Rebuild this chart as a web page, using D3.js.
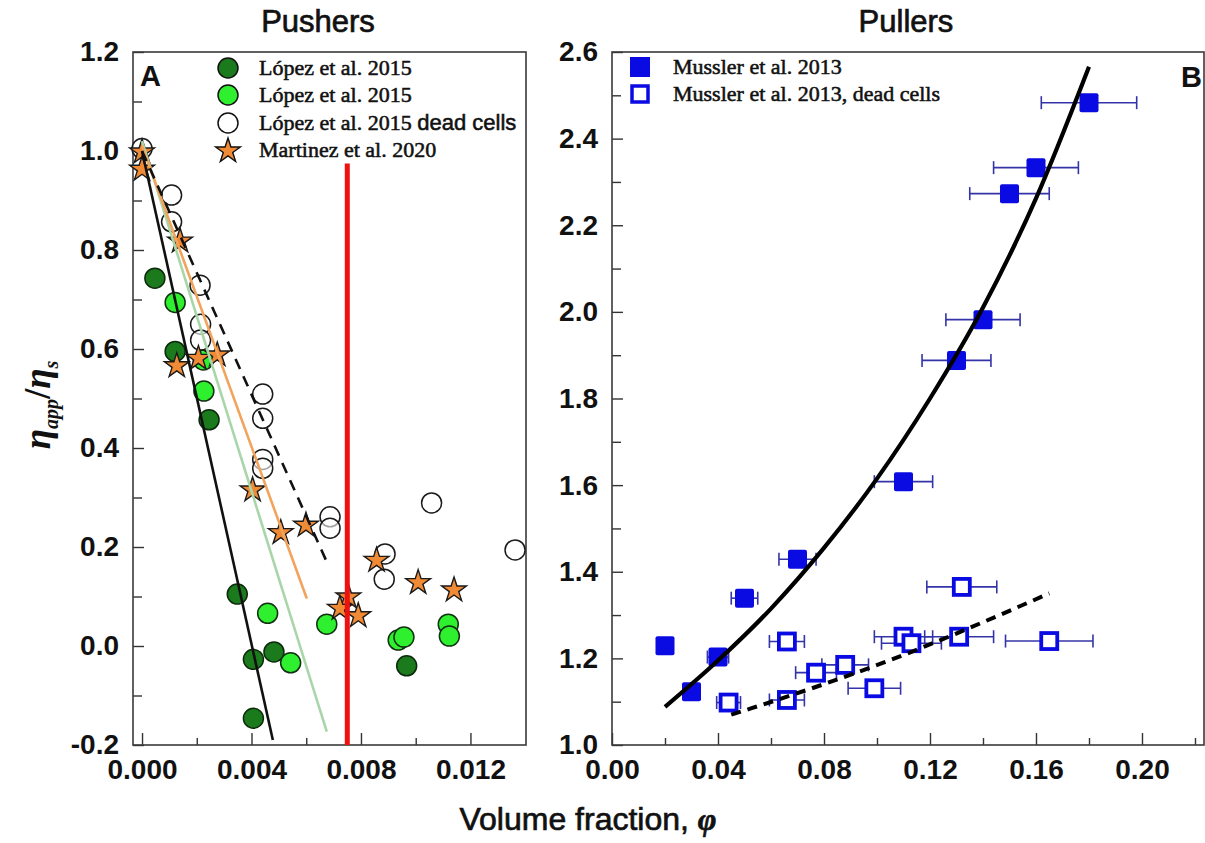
<!DOCTYPE html>
<html><head><meta charset="utf-8">
<script src="https://cdn.jsdelivr.net/npm/d3@7"></script>
<style>
body{margin:0;background:#fff;}
svg text{font-family:"Liberation Sans",Arial,sans-serif;}
</style></head><body>
<svg id="chart" width="1205" height="843"></svg>
<script>
// ---------- Panel A: pushers ----------
const darkGreenPhi = [0.00047, 0.00121, 0.00245, 0.00348, 0.00407, 0.00482, 0.00407, 0.00967];
const darkGreenEta = [0.743, 0.595, 0.457, 0.105, -0.027, -0.012, -0.146, -0.040];

const lightGreenPhi = [0.00121, 0.00224, 0.00226, 0.00459, 0.00543, 0.00675, 0.00936, 0.00957, 0.01119, 0.01123];
const lightGreenEta = [0.694, 0.578, 0.515, 0.066, -0.034, 0.044, 0.012, 0.018, 0.044, 0.020];

const deadPhi = [0.0, 0.00108, 0.00108, 0.00212, 0.00214, 0.00214, 0.00441, 0.00441, 0.00441, 0.00441, 0.00687, 0.00687, 0.01058, 0.00888, 0.00885, 0.01363];
const deadEta = [1.005, 0.911, 0.857, 0.729, 0.650, 0.618, 0.509, 0.460, 0.377, 0.359, 0.261, 0.238, 0.289, 0.186, 0.135, 0.194];

const martinezPhi = [0.0, 0.0, 0.00139, 0.00127, 0.00206, 0.00275, 0.00404, 0.00507, 0.00599, 0.00857, 0.01009, 0.0114, 0.00754, 0.00723, 0.0079];
const martinezEta = [1.0, 0.965, 0.820, 0.568, 0.583, 0.590, 0.317, 0.231, 0.246, 0.175, 0.130, 0.115, 0.101, 0.078, 0.063];

// straight fits (end points)
const fitDarkGreen  = [[0, 1.0], [0.00478, -0.19]];
const fitLightGreen = [[0, 1.02], [0.00675, -0.173]];
const fitMartinez   = [[0, 1.01], [0.00602, 0.096]];
const fitDead       = [[0, 1.0], [0.00675, 0.17]];
const criticalPhi = 0.0075, criticalTop = 0.975;

const pushXTicks = [0, 0.004, 0.008, 0.012];
const pushXMinor = [0.002, 0.006, 0.010];
const pushYTicks = [-0.2, 0.0, 0.2, 0.4, 0.6, 0.8, 1.0, 1.2];
const pushYMinor = [-0.1, 0.1, 0.3, 0.5, 0.7, 0.9, 1.1];

const pushLegend = [["López et al. 2015", ""], ["López et al. 2015", ""], ["López et al. 2015 ", "dead cells"], ["Martinez et al. 2020", ""]];

// ---------- Panel B: pullers ----------
const livePhi = [0.02, 0.03, 0.04, 0.05, 0.07, 0.11, 0.13, 0.14, 0.15, 0.16, 0.18];
const liveEta = [1.229, 1.123, 1.203, 1.339, 1.429, 1.608, 1.888, 1.982, 2.273, 2.333, 2.483];
const liveErr = [0.002, 0.003, 0.004, 0.005, 0.007, 0.011, 0.013, 0.014, 0.015, 0.016, 0.018];

const deadPullPhi = [0.044, 0.066, 0.066, 0.077, 0.088, 0.099, 0.110, 0.113, 0.131, 0.132, 0.165];
const deadPullEta = [1.098, 1.104, 1.239, 1.167, 1.185, 1.131, 1.250, 1.235, 1.250, 1.365, 1.240];
const deadPullErr = [0.0045, 0.0066, 0.0066, 0.0077, 0.0088, 0.0099, 0.011, 0.0113, 0.013, 0.0132, 0.0165];

const liveFitPhi = [0.02, 0.04, 0.06, 0.08, 0.10, 0.12, 0.14, 0.16, 0.18];
const liveFitEta = [1.088, 1.195, 1.315, 1.455, 1.615, 1.800, 2.010, 2.262, 2.566];
const deadFitPhi = [0.045, 0.0527, 0.1024, 0.165];
const deadFitEta = [1.07, 1.085, 1.19, 1.35];

const pullXTicks = [0, 0.04, 0.08, 0.12, 0.16, 0.20];
const pullXMinor = [0.02, 0.06, 0.10, 0.14, 0.18, 0.22];
const pullYTicks = [1.0, 1.2, 1.4, 1.6, 1.8, 2.0, 2.2, 2.4, 2.6];
const pullYMinor = [1.1, 1.3, 1.5, 1.7, 1.9, 2.1, 2.3, 2.5];

const pullLegend = ["Mussler et al. 2013", "Mussler et al. 2013, dead cells"];

// ---------- drawing ----------
const svg = d3.select("#chart");
const DARK = "#1b7a1b", LIGHT = "#2ff02f", ORANGE = "#f08a35", BLUE = "#0a0ae2", BAR = "#3434a8";
const SERIF = "'Liberation Serif','Times New Roman',serif";
const starGen = d3.symbol(d3.symbolStar).size(190);

const xA = d3.scaleLinear().domain([-0.00033, 0.01403]).range([133, 526]);
const yA = d3.scaleLinear().domain([-0.2, 1.2]).range([745, 52]);
const xB = d3.scaleLinear().domain([0, 0.2234]).range([612, 1204]);
const yB = d3.scaleLinear().domain([1.0, 2.6]).range([745, 52]);

const hyphen = f => v => f(v).replace("\u2212", "-");

function styleTicks(g){
  g.select(".domain").remove();
  g.selectAll(".tick line").attr("stroke", "#333").attr("stroke-width", 1.4);
  g.selectAll(".tick text").attr("fill", "#111").style("font-size", "28px").style("font-weight", "bold")
    .style("font-family", "'Liberation Sans',Arial,sans-serif");
}

function drawAxes(x, y, xt, xm, yt, ym, xfmt, yfmt){
  const [x0, x1] = x.range(), [y0, y1] = y.range();
  svg.append("g").attr("transform", `translate(0,${y0})`)
    .call(d3.axisBottom(x).tickValues(xm).tickSize(-7).tickFormat("")).call(styleTicks);
  svg.append("g").attr("transform", `translate(0,${y0})`)
    .call(d3.axisBottom(x).tickValues(xt).tickSize(-12).tickPadding(14).tickFormat(xfmt)).call(styleTicks);
  svg.append("g").attr("transform", `translate(${x0},0)`)
    .call(d3.axisLeft(y).tickValues(ym).tickSize(-9).tickFormat("")).call(styleTicks);
  svg.append("g").attr("transform", `translate(${x0},0)`)
    .call(d3.axisLeft(y).tickValues(yt).tickSize(-11).tickPadding(14).tickFormat(yfmt)).call(styleTicks);
  svg.append("rect").attr("x", x0).attr("y", y1).attr("width", x1 - x0).attr("height", y0 - y1)
    .attr("fill", "none").attr("stroke", "#3a3a3a").attr("stroke-width", 1.6);
}

drawAxes(xA, yA, pushXTicks, pushXMinor, pushYTicks, pushYMinor, hyphen(d3.format(".3f")), hyphen(d3.format(".1f")));
drawAxes(xB, yB, pullXTicks, pullXMinor, pullYTicks, pullYMinor, hyphen(d3.format(".2f")), hyphen(d3.format(".1f")));

// Panel A markers
const gA = svg.append("g");
gA.selectAll(".dg").data(d3.zip(darkGreenPhi, darkGreenEta)).join("circle")
  .attr("cx", d => xA(d[0])).attr("cy", d => yA(d[1])).attr("r", 10)
  .attr("fill", DARK).attr("stroke", "#0c2a0c").attr("stroke-width", 1.5);
gA.selectAll(".lg").data(d3.zip(lightGreenPhi, lightGreenEta)).join("circle")
  .attr("cx", d => xA(d[0])).attr("cy", d => yA(d[1])).attr("r", 10)
  .attr("fill", LIGHT).attr("stroke", "#123012").attr("stroke-width", 1.5);
gA.selectAll(".dc").data(d3.zip(deadPhi, deadEta)).join("circle")
  .attr("cx", d => xA(d[0])).attr("cy", d => yA(d[1])).attr("r", 10)
  .attr("fill", "white").attr("fill-opacity", 0.6).attr("stroke", "#1a1a1a").attr("stroke-width", 1.5);
gA.selectAll(".st").data(d3.zip(martinezPhi, martinezEta)).join("path")
  .attr("d", starGen).attr("transform", d => `translate(${xA(d[0])},${yA(d[1])+1})`)
  .attr("fill", ORANGE).attr("stroke", "#1a1a1a").attr("stroke-width", 1.4);

// Panel A fits
const lineA = d3.line().x(d => xA(d[0])).y(d => yA(d[1]));
gA.append("path").attr("d", lineA(fitLightGreen)).attr("stroke", "#a9d6a9").attr("stroke-width", 2.6).attr("fill", "none");
gA.append("path").attr("d", lineA(fitMartinez)).attr("stroke", "#f2a35c").attr("stroke-width", 2.6).attr("fill", "none");
gA.append("path").attr("d", lineA(fitDarkGreen)).attr("stroke", "#111").attr("stroke-width", 2.6).attr("fill", "none");
gA.append("path").attr("d", lineA(fitDead)).attr("stroke", "#111").attr("stroke-width", 2.6)
  .attr("stroke-dasharray", "11,8").attr("fill", "none");
gA.append("line").attr("x1", xA(criticalPhi)).attr("x2", xA(criticalPhi))
  .attr("y1", yA(-0.2)).attr("y2", yA(criticalTop)).attr("stroke", "#f01010").attr("stroke-width", 5);

// Panel A legend
const legA = svg.append("g");
const legRowsA = [68, 95, 123, 150];
pushLegend.forEach((t, i) => {
  const cy = legRowsA[i], cx = 228;
  if (i < 3) legA.append("circle").attr("cx", cx).attr("cy", cy).attr("r", 10)
    .attr("fill", i === 0 ? DARK : i === 1 ? LIGHT : "white").attr("stroke", "#111").attr("stroke-width", 1.5);
  else legA.append("path").attr("d", starGen).attr("transform", `translate(${cx},${cy+1})`)
    .attr("fill", ORANGE).attr("stroke", "#111").attr("stroke-width", 1.4);
  const tx = legA.append("text").attr("x", 259).attr("y", cy + 7).style("font-size", "22px")
    .attr("fill", "#111").attr("stroke", "#111").attr("stroke-width", 0.55);
  tx.append("tspan").text(t[0]).style("font-family", SERIF);
  if (t[1]) tx.append("tspan").text(t[1]).style("font-family", "'Liberation Sans',Arial,sans-serif");
});

// Panel B error bars & markers
const gB = svg.append("g");
function errBars(phi, eta, err){
  const rows = d3.zip(phi, eta, err);
  gB.selectAll(null).data(rows).join("line")
    .attr("x1", d => xB(d[0] - d[2])).attr("x2", d => xB(d[0] + d[2]))
    .attr("y1", d => yB(d[1])).attr("y2", d => yB(d[1])).attr("stroke", BAR).attr("stroke-width", 1.6);
  [-1, 1].forEach(s => gB.selectAll(null).data(rows).join("line")
    .attr("x1", d => xB(d[0] + s * d[2])).attr("x2", d => xB(d[0] + s * d[2]))
    .attr("y1", d => yB(d[1]) - 6.5).attr("y2", d => yB(d[1]) + 6.5).attr("stroke", BAR).attr("stroke-width", 1.6));
}
errBars(livePhi, liveEta, liveErr);
errBars(deadPullPhi, deadPullEta, deadPullErr);
gB.selectAll(".lv").data(d3.zip(livePhi, liveEta)).join("rect")
  .attr("x", d => xB(d[0]) - 9.5).attr("y", d => yB(d[1]) - 9.5).attr("width", 19).attr("height", 19).attr("rx", 2)
  .attr("fill", BLUE);
gB.selectAll(".dd").data(d3.zip(deadPullPhi, deadPullEta)).join("rect")
  .attr("x", d => xB(d[0]) - 8).attr("y", d => yB(d[1]) - 8).attr("width", 16).attr("height", 16)
  .attr("fill", "white").attr("stroke", BLUE).attr("stroke-width", 3.8);

const lineB = d3.line().x(d => xB(d[0])).y(d => yB(d[1])).curve(d3.curveMonotoneX);
gB.append("path").attr("d", lineB(d3.zip(liveFitPhi, liveFitEta))).attr("stroke", "#000").attr("stroke-width", 4.2).attr("fill", "none");
gB.append("path").attr("d", lineB(d3.zip(deadFitPhi, deadFitEta))).attr("stroke", "#000").attr("stroke-width", 4)
  .attr("stroke-dasharray", "10,7").attr("fill", "none");

// Panel B legend
const legB = svg.append("g");
[67, 94].forEach((cy, i) => {
  if (i === 0) legB.append("rect").attr("x", 630).attr("y", cy - 10).attr("width", 20).attr("height", 20).attr("fill", BLUE);
  else legB.append("rect").attr("x", 632).attr("y", cy - 8).attr("width", 16).attr("height", 16)
    .attr("fill", "white").attr("stroke", BLUE).attr("stroke-width", 3.5);
  legB.append("text").attr("x", 673).attr("y", cy + 7).text(pullLegend[i])
    .style("font-family", SERIF).style("font-size", "22px")
    .attr("fill", "#111").attr("stroke", "#111").attr("stroke-width", 0.55);
});

// Panel letters, titles, axis titles
svg.append("text").attr("x", 140).attr("y", 86).text("A").style("font-size", "29px").style("font-weight", "bold").attr("fill", "#111");
svg.append("text").attr("x", 1181).attr("y", 87).text("B").style("font-size", "29px").style("font-weight", "bold").attr("fill", "#111");
svg.append("text").attr("x", 318).attr("y", 32).attr("text-anchor", "middle").text("Pushers").style("font-size", "31px")
  .attr("fill", "#111").attr("stroke", "#111").attr("stroke-width", 0.7);
svg.append("text").attr("x", 906).attr("y", 32).attr("text-anchor", "middle").text("Pullers").style("font-size", "31px")
  .attr("fill", "#111").attr("stroke", "#111").attr("stroke-width", 0.7);

const xt = svg.append("text").attr("x", 588).attr("y", 830).attr("text-anchor", "middle").style("font-size", "32px")
  .attr("fill", "#111").attr("stroke", "#111").attr("stroke-width", 0.7);
xt.append("tspan").text("Volume fraction, ");
xt.append("tspan").text("φ").style("font-family", SERIF).style("font-style", "italic").style("font-weight", "bold");

const yt = svg.append("text").attr("transform", "translate(50,405) rotate(-90)").attr("text-anchor", "middle")
  .style("font-family", SERIF).style("font-style", "italic").style("font-weight", "bold")
  .style("font-size", "37px").attr("fill", "#111");
yt.append("tspan").text("η");
yt.append("tspan").text("app").attr("dy", 8).style("font-size", "20px");
yt.append("tspan").text("/").attr("dy", -8).style("font-style", "normal");
yt.append("tspan").text("η");
yt.append("tspan").text("s").attr("dy", 8).style("font-size", "20px");
</script>
</body></html>
